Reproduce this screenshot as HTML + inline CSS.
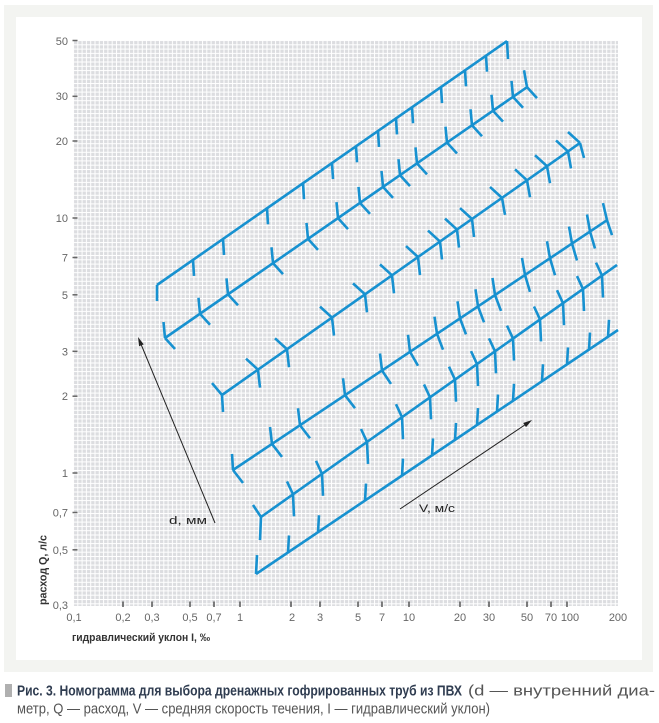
<!DOCTYPE html>
<html>
<head>
<meta charset="utf-8">
<style>
html,body{margin:0;padding:0;background:#fff;}
svg{display:block;}
text{font-family:"Liberation Sans","DejaVu Sans",sans-serif;}
</style>
</head>
<body>
<svg width="659" height="723" viewBox="0 0 659 723" xmlns="http://www.w3.org/2000/svg">
<defs>
<pattern id="g" width="4.3" height="4.3" patternUnits="userSpaceOnUse" x="73" y="40">
<rect width="4.3" height="4.3" fill="#dcdde0"/>
<rect width="1" height="4.3" fill="#fff"/>
<rect width="4.3" height="1" fill="#fff"/>
</pattern>
</defs>

<!-- frame -->
<rect x="4" y="5" width="649" height="667" fill="#f3f4f1"/>
<rect x="16" y="17" width="626" height="643" fill="#fff"/>

<!-- grid -->
<rect x="73" y="40" width="545" height="566" fill="url(#g)"/>

<!-- y ticks -->
<g stroke="#666" stroke-width="1.5">
<line x1="72.5" y1="40.5" x2="77.5" y2="40.5"/>
<line x1="72.5" y1="96.3" x2="77.5" y2="96.3"/>
<line x1="72.5" y1="141" x2="77.5" y2="141"/>
<line x1="72.5" y1="218" x2="77.5" y2="218"/>
<line x1="72.5" y1="257.5" x2="77.5" y2="257.5"/>
<line x1="72.5" y1="294.8" x2="77.5" y2="294.8"/>
<line x1="72.5" y1="351.3" x2="77.5" y2="351.3"/>
<line x1="72.5" y1="396.2" x2="77.5" y2="396.2"/>
<line x1="72.5" y1="473" x2="77.5" y2="473"/>
<line x1="72.5" y1="512.5" x2="77.5" y2="512.5"/>
<line x1="72.5" y1="549.8" x2="77.5" y2="549.8"/>
</g>
<g font-size="11" fill="#666" text-anchor="end">
<text x="68" y="45">50</text>
<text x="68" y="100">30</text>
<text x="68" y="145">20</text>
<text x="68" y="222">10</text>
<text x="68" y="261.5">7</text>
<text x="68" y="299">5</text>
<text x="68" y="355.5">3</text>
<text x="68" y="400">2</text>
<text x="68" y="477">1</text>
<text x="68" y="516.5">0,7</text>
<text x="68" y="554">0,5</text>
<text x="68" y="609">0,3</text>
</g>

<!-- x ticks -->
<g stroke="#555" stroke-width="1.5">
<line x1="123" y1="601.5" x2="123" y2="607"/>
<line x1="152" y1="601.5" x2="152" y2="607"/>
<line x1="190" y1="601.5" x2="190" y2="607"/>
<line x1="214" y1="601.5" x2="214" y2="607"/>
<line x1="240" y1="601.5" x2="240" y2="607"/>
<line x1="291" y1="601.5" x2="291" y2="607"/>
<line x1="320" y1="601.5" x2="320" y2="607"/>
<line x1="358" y1="601.5" x2="358" y2="607"/>
<line x1="382" y1="601.5" x2="382" y2="607"/>
<line x1="409" y1="601.5" x2="409" y2="607"/>
<line x1="460" y1="601.5" x2="460" y2="607"/>
<line x1="489" y1="601.5" x2="489" y2="607"/>
<line x1="527" y1="601.5" x2="527" y2="607"/>
<line x1="551" y1="601.5" x2="551" y2="607"/>
<line x1="567" y1="601.5" x2="567" y2="607"/>
</g>
<g font-size="11" fill="#666" text-anchor="middle">
<text x="74" y="621">0,1</text>
<text x="123" y="621">0,2</text>
<text x="152" y="621">0,3</text>
<text x="190" y="621">0,5</text>
<text x="214" y="621">0,7</text>
<text x="240" y="621">1</text>
<text x="292" y="621">2</text>
<text x="320" y="621">3</text>
<text x="358" y="621">5</text>
<text x="382" y="621">7</text>
<text x="409" y="621">10</text>
<text x="460" y="621">20</text>
<text x="489" y="621">30</text>
<text x="527" y="621">50</text>
<text x="551" y="621">70</text>
<text x="570" y="621">100</text>
<text x="618" y="621">200</text>
</g>

<!-- axis titles -->
<text x="72" y="641" font-size="11" font-weight="bold" fill="#333" textLength="138" lengthAdjust="spacingAndGlyphs">гидравлический уклон I, ‰</text>
<text transform="translate(46.5,605) rotate(-90)" font-size="11" font-weight="bold" fill="#333" textLength="70" lengthAdjust="spacingAndGlyphs">расход Q, л/с</text>

<!-- nomogram lines -->
<g fill="none" stroke="#1791d0" stroke-width="2.6">
<!-- line 1 -->
<path vector-effect="non-scaling-stroke" transform="matrix(1,-0.697,0,1,157,285)" d="M0,0 H350 M0,0 l0,16 M36,0 l1,16.7 M66,0 l1,16.7 M110,0 l1,16.7 M146,0 l1,16.7 M175,0 l1,16.7 M199,0 l1,16.7 M221,0 l1,16.7 M239,0 l1,16.7 M255,0 l1,16.7 M284,0 l1,16.7 M308,0 l1,16.7 M329,0 l1,16.7 M350,0 l1,18.7"/>
<!-- line 2 -->
<path vector-effect="non-scaling-stroke" transform="matrix(1,-0.693,0,1,165,338)" d="M0,0 H362
M0,0 l-1.5,-17 M0,0 l10,17.9
M35,0 l-1.5,-17 M35,0 l10,17.9
M63,0 l-1.5,-17 M63,0 l10,17.9
M108,0 l-1.5,-17 M108,0 l10,17.9
M143,0 l-1.5,-17 M143,0 l10,17.9
M173,0 l-1.5,-17 M173,0 l10,17.9
M195,0 l-1.5,-17 M195,0 l10,17.9
M218,0 l-1.5,-17 M218,0 l10,17.9
M235,0 l-1.5,-17 M235,0 l10,17.9
M252,0 l-1.5,-17 M252,0 l10,17.9
M282,0 l-1.5,-17 M282,0 l10,17.9
M307,0 l-1.5,-17 M307,0 l10,17.9
M328,0 l-1.5,-17 M328,0 l10,17.9
M348,0 l-1.5,-17 M348,0 l10,17.9
M362,0 l-3,-19 M362,0 l10,17.9"/>
<!-- line 3 -->
<path vector-effect="non-scaling-stroke" transform="matrix(1,-0.704,0,1,222,395)" d="M0,0 H358
M0,0 l-10,-19 M0,0 l1,17.7
M36,0 l-12,-19.4 M36,0 l2,19.4
M65,0 l-12,-19.4 M65,0 l2,19.4
M110,0 l-12,-19.4 M110,0 l2,19.4
M143,0 l-12,-19.4 M143,0 l2,19.4
M170,0 l-12,-19.4 M170,0 l2,19.4
M196,0 l-12,-19.4 M196,0 l2,19.4
M218,0 l-12,-19.4 M218,0 l2,19.4
M235,0 l-12,-19.4 M235,0 l2,19.4
M250,0 l-12,-19.4 M250,0 l2,19.4
M280,0 l-12,-19.4 M280,0 l3,19.1
M305,0 l-12,-19.4 M305,0 l3,19.1
M325,0 l-12,-19.4 M325,0 l3,19.1
M346,0 l-12,-19.4 M346,0 l3,19.1
M358,0 l-12,-19.4 M358,0 l4,17.8"/>
<!-- line 4 -->
<path vector-effect="non-scaling-stroke" transform="matrix(1,-0.668,0,1,233,470)" d="M0,0 H374
M0,0 l-1,-16.7 M0,0 l10,19.7
M39,0 l-2,-18.3 M39,0 l10,19.7
M67,0 l-2,-18.3 M67,0 l10,19.7
M112,0 l-2,-18.3 M112,0 l10,19.7
M149,0 l-2,-18.3 M149,0 l9,19.5
M177,0 l-2,-18.3 M177,0 l8,19.3
M204,0 l-2.5,-18.7 M204,0 l6,20
M227,0 l-2.5,-18.7 M227,0 l6,20
M245,0 l-2.5,-18.7 M245,0 l6,20
M262,0 l-2.5,-18.7 M262,0 l6,20
M292,0 l-3,-19 M292,0 l5,20.3
M317,0 l-3,-19 M317,0 l5,20.3
M339,0 l-3,-19 M339,0 l5,20.3
M357,0 l-3,-19 M357,0 l5,20.3
M374,0 l-4,-19.7 M374,0 l5,18.3"/>
<!-- line 5 -->
<path vector-effect="non-scaling-stroke" transform="matrix(1,-0.708,0,1,261,517)" d="M0,0 H356
M0,0 l-8,-17.7 M0,0 l-1,22.3
M32,0 l-6,-17.2 M32,0 l1,22.7
M61,0 l-6,-17.2 M61,0 l1,22.7
M106,0 l-6,-17.2 M106,0 l1,22.7
M141,0 l-6,-17.2 M141,0 l1,22.7
M169,0 l-6,-17.2 M169,0 l1,22.7
M194,0 l-6,-17.2 M194,0 l1,22.7
M216,0 l-6,-17.2 M216,0 l1,22.7
M234,0 l-6,-17.2 M234,0 l1,22.7
M252,0 l-6,-17.2 M252,0 l1,22.7
M279,0 l-6,-17.2 M279,0 l1,22.7
M302,0 l-6,-17.2 M302,0 l1,22.7
M322,0 l-6,-17.2 M322,0 l1,22.7
M341,0 l-6,-17.2 M341,0 l1,22.7"/>
<!-- line 6 -->
<path vector-effect="non-scaling-stroke" transform="matrix(1,-0.674,0,1,256,574)" d="M0,0 H362
M0,0 l1,-18.3
M32,0 l1,-16.3 M62,0 l1,-16.3 M109,0 l1,-16.3 M146,0 l1,-16.3 M176,0 l1,-16.3 M199,0 l1,-16.3 M221,0 l1,-16.3 M241,0 l1,-16.3 M257,0 l1,-16.3 M286,0 l1,-16.3 M311,0 l1,-16.3 M333,0 l1,-16.3 M352,0 l1,-16.3"/>
</g>

<!-- arrows -->
<g stroke="#222" stroke-width="1" fill="none">
<line x1="215" y1="523" x2="140.5" y2="343"/>
<line x1="400" y1="509" x2="525.5" y2="424.5"/>
</g>
<g fill="#222">
<polygon points="138,337 143.7,344.4 139.1,346.3"/>
<polygon points="532,420 526.0,427.1 523.2,423.0"/>
</g>
<text x="169" y="524" font-size="11" fill="#222" textLength="38" lengthAdjust="spacingAndGlyphs">d, мм</text>
<text x="419" y="512" font-size="11" fill="#222" textLength="36" lengthAdjust="spacingAndGlyphs">V, м/с</text>

<!-- caption -->
<rect x="5" y="684" width="7" height="13" fill="#b0b0b0"/>
<text x="17" y="695.5" font-size="14.5" font-weight="bold" fill="#2f3c50" textLength="445" lengthAdjust="spacingAndGlyphs">Рис. 3. Номограмма для выбора дренажных гофрированных труб из ПВХ</text>
<text x="468" y="695.5" font-size="14.5" fill="#555" textLength="187" lengthAdjust="spacingAndGlyphs">(d — внутренний диа-</text>
<text x="17" y="713.5" font-size="14.5" fill="#555" textLength="473" lengthAdjust="spacingAndGlyphs">метр, Q — расход, V — средняя скорость течения, I — гидравлический уклон)</text>
</svg>
</body>
</html>
